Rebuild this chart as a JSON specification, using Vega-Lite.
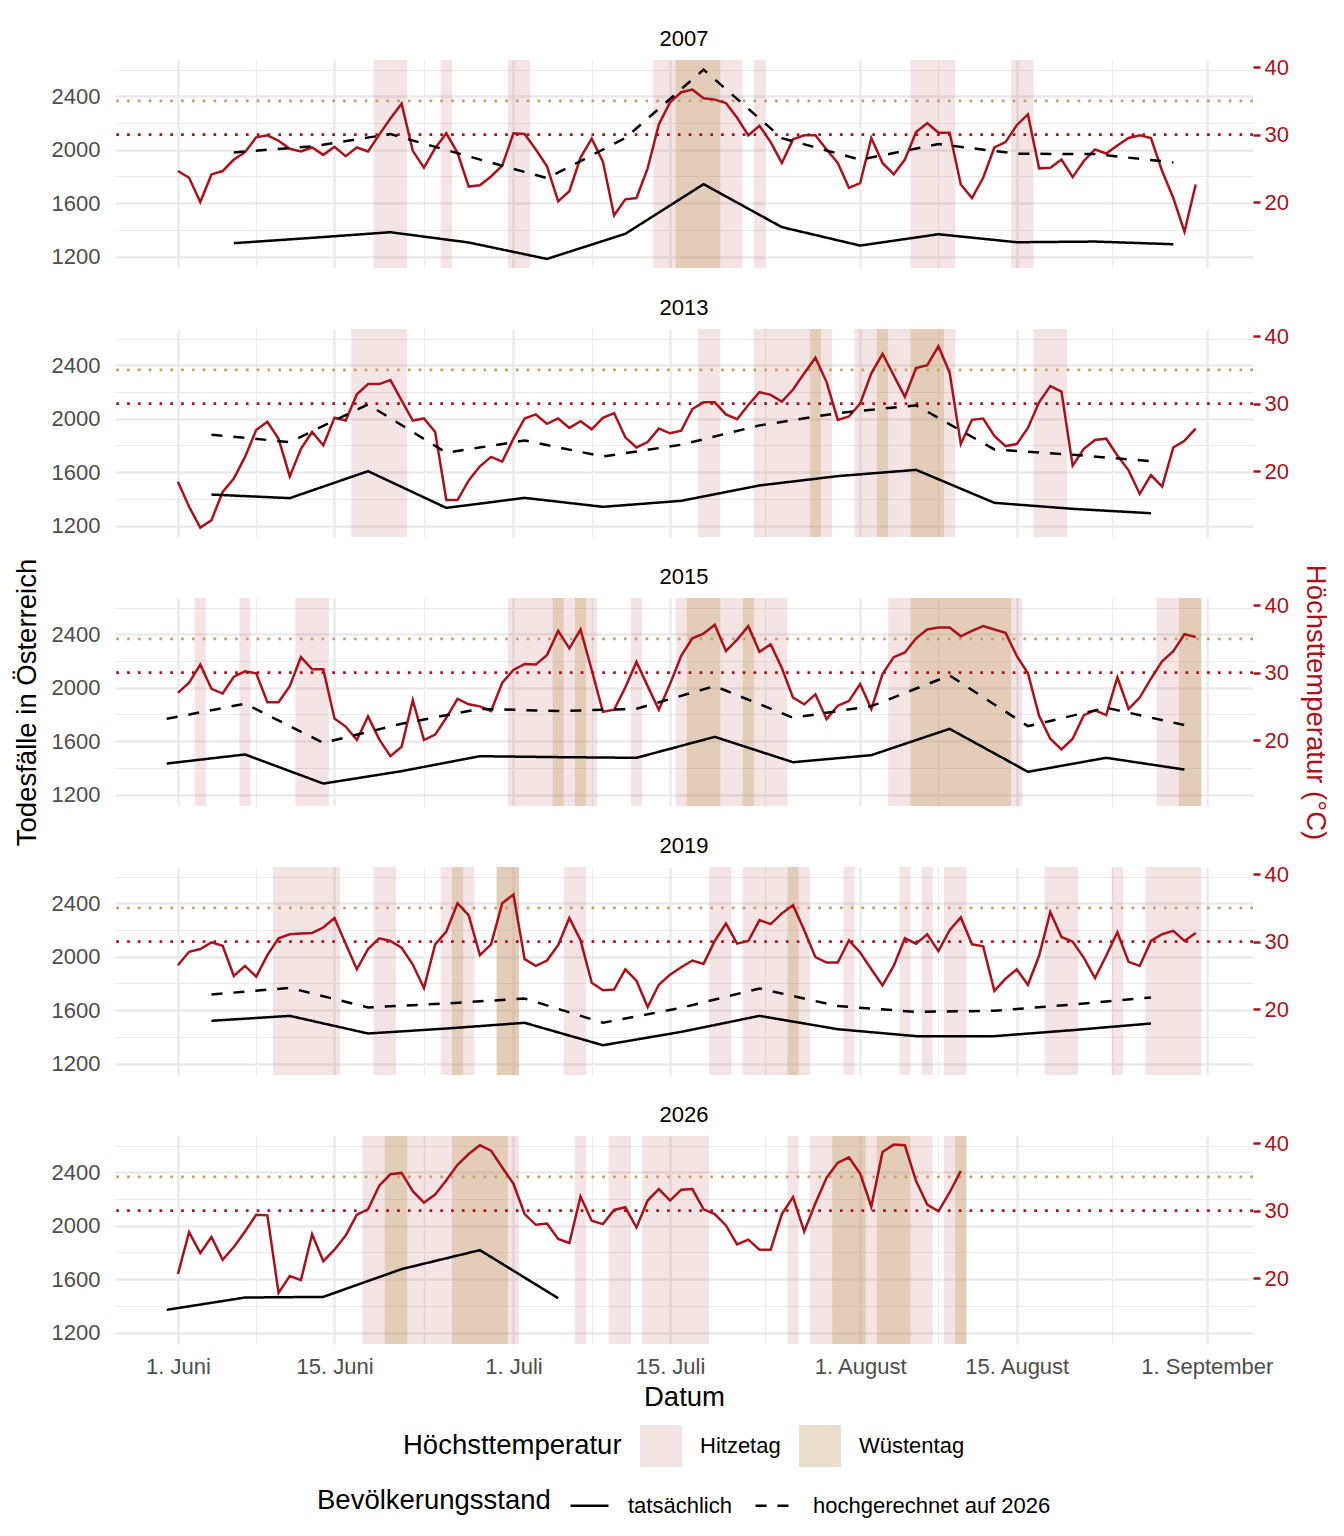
{
  "$schema": "https://vega.github.io/schema/vega-lite/v6.json",
  "padding": {"left": 13, "top": 28, "right": 10, "bottom": 10},
  "spacing": 61,
  "bounds": "flush",
  "datasets": {
    "temp": [
      {"Jahr":2007,"Tag":0,"Grad":24.6},{"Jahr":2007,"Tag":1,"Grad":23.6},{"Jahr":2007,"Tag":2,"Grad":20.0},{"Jahr":2007,"Tag":3,"Grad":24.1},{"Jahr":2007,"Tag":4,"Grad":24.6},{"Jahr":2007,"Tag":5,"Grad":26.3},{"Jahr":2007,"Tag":6,"Grad":27.4},{"Jahr":2007,"Tag":7,"Grad":29.6},{"Jahr":2007,"Tag":8,"Grad":29.9},{"Jahr":2007,"Tag":9,"Grad":29.1},
      {"Jahr":2007,"Tag":10,"Grad":27.9},{"Jahr":2007,"Tag":11,"Grad":27.5},{"Jahr":2007,"Tag":12,"Grad":28.1},{"Jahr":2007,"Tag":13,"Grad":27.0},{"Jahr":2007,"Tag":14,"Grad":28.2},{"Jahr":2007,"Tag":15,"Grad":26.8},{"Jahr":2007,"Tag":16,"Grad":28.1},{"Jahr":2007,"Tag":17,"Grad":27.5},{"Jahr":2007,"Tag":18,"Grad":30.0},{"Jahr":2007,"Tag":19,"Grad":32.4},
      {"Jahr":2007,"Tag":20,"Grad":34.6},{"Jahr":2007,"Tag":21,"Grad":27.6},{"Jahr":2007,"Tag":22,"Grad":25.1},{"Jahr":2007,"Tag":23,"Grad":28.0},{"Jahr":2007,"Tag":24,"Grad":30.2},{"Jahr":2007,"Tag":25,"Grad":27.3},{"Jahr":2007,"Tag":26,"Grad":22.3},{"Jahr":2007,"Tag":27,"Grad":22.5},{"Jahr":2007,"Tag":28,"Grad":23.8},{"Jahr":2007,"Tag":29,"Grad":25.4},
      {"Jahr":2007,"Tag":30,"Grad":30.2},{"Jahr":2007,"Tag":31,"Grad":30.1},{"Jahr":2007,"Tag":32,"Grad":27.8},{"Jahr":2007,"Tag":33,"Grad":25.3},{"Jahr":2007,"Tag":34,"Grad":20.1},{"Jahr":2007,"Tag":35,"Grad":21.6},{"Jahr":2007,"Tag":36,"Grad":26.6},{"Jahr":2007,"Tag":37,"Grad":29.4},{"Jahr":2007,"Tag":38,"Grad":26.0},{"Jahr":2007,"Tag":39,"Grad":18.0},
      {"Jahr":2007,"Tag":40,"Grad":20.4},{"Jahr":2007,"Tag":41,"Grad":20.6},{"Jahr":2007,"Tag":42,"Grad":25.0},{"Jahr":2007,"Tag":43,"Grad":31.5},{"Jahr":2007,"Tag":44,"Grad":34.8},{"Jahr":2007,"Tag":45,"Grad":36.3},{"Jahr":2007,"Tag":46,"Grad":36.7},{"Jahr":2007,"Tag":47,"Grad":35.4},{"Jahr":2007,"Tag":48,"Grad":35.2},{"Jahr":2007,"Tag":49,"Grad":34.7},
      {"Jahr":2007,"Tag":50,"Grad":32.5},{"Jahr":2007,"Tag":51,"Grad":29.9},{"Jahr":2007,"Tag":52,"Grad":31.3},{"Jahr":2007,"Tag":53,"Grad":28.9},{"Jahr":2007,"Tag":54,"Grad":25.8},{"Jahr":2007,"Tag":55,"Grad":29.3},{"Jahr":2007,"Tag":56,"Grad":29.9},{"Jahr":2007,"Tag":57,"Grad":29.9},{"Jahr":2007,"Tag":58,"Grad":27.8},{"Jahr":2007,"Tag":59,"Grad":25.8},
      {"Jahr":2007,"Tag":60,"Grad":22.1},{"Jahr":2007,"Tag":61,"Grad":22.8},{"Jahr":2007,"Tag":62,"Grad":29.5},{"Jahr":2007,"Tag":63,"Grad":25.8},{"Jahr":2007,"Tag":64,"Grad":24.1},{"Jahr":2007,"Tag":65,"Grad":26.3},{"Jahr":2007,"Tag":66,"Grad":30.4},{"Jahr":2007,"Tag":67,"Grad":31.7},{"Jahr":2007,"Tag":68,"Grad":30.3},{"Jahr":2007,"Tag":69,"Grad":30.3},
      {"Jahr":2007,"Tag":70,"Grad":22.6},{"Jahr":2007,"Tag":71,"Grad":20.6},{"Jahr":2007,"Tag":72,"Grad":23.6},{"Jahr":2007,"Tag":73,"Grad":28.1},{"Jahr":2007,"Tag":74,"Grad":28.9},{"Jahr":2007,"Tag":75,"Grad":31.4},{"Jahr":2007,"Tag":76,"Grad":33.0},{"Jahr":2007,"Tag":77,"Grad":25.0},{"Jahr":2007,"Tag":78,"Grad":25.1},{"Jahr":2007,"Tag":79,"Grad":26.3},
      {"Jahr":2007,"Tag":80,"Grad":23.7},{"Jahr":2007,"Tag":81,"Grad":26.1},{"Jahr":2007,"Tag":82,"Grad":27.8},{"Jahr":2007,"Tag":83,"Grad":27.2},{"Jahr":2007,"Tag":84,"Grad":28.4},{"Jahr":2007,"Tag":85,"Grad":29.5},{"Jahr":2007,"Tag":86,"Grad":29.9},{"Jahr":2007,"Tag":87,"Grad":29.5},{"Jahr":2007,"Tag":88,"Grad":24.6},{"Jahr":2007,"Tag":89,"Grad":20.6},
      {"Jahr":2007,"Tag":90,"Grad":15.6},{"Jahr":2007,"Tag":91,"Grad":22.6},

      {"Jahr":2013,"Tag":0,"Grad":18.4},{"Jahr":2013,"Tag":1,"Grad":14.7},{"Jahr":2013,"Tag":2,"Grad":11.6},{"Jahr":2013,"Tag":3,"Grad":12.7},{"Jahr":2013,"Tag":4,"Grad":16.9},{"Jahr":2013,"Tag":5,"Grad":18.9},{"Jahr":2013,"Tag":6,"Grad":22.1},{"Jahr":2013,"Tag":7,"Grad":26.1},{"Jahr":2013,"Tag":8,"Grad":27.3},{"Jahr":2013,"Tag":9,"Grad":24.8},
      {"Jahr":2013,"Tag":10,"Grad":19.2},{"Jahr":2013,"Tag":11,"Grad":23.3},{"Jahr":2013,"Tag":12,"Grad":25.8},{"Jahr":2013,"Tag":13,"Grad":23.8},{"Jahr":2013,"Tag":14,"Grad":27.9},{"Jahr":2013,"Tag":15,"Grad":27.5},{"Jahr":2013,"Tag":16,"Grad":31.4},{"Jahr":2013,"Tag":17,"Grad":32.9},{"Jahr":2013,"Tag":18,"Grad":32.9},{"Jahr":2013,"Tag":19,"Grad":33.5},
      {"Jahr":2013,"Tag":20,"Grad":30.5},{"Jahr":2013,"Tag":21,"Grad":27.5},{"Jahr":2013,"Tag":22,"Grad":27.8},{"Jahr":2013,"Tag":23,"Grad":25.8},{"Jahr":2013,"Tag":24,"Grad":15.7},{"Jahr":2013,"Tag":25,"Grad":15.7},{"Jahr":2013,"Tag":26,"Grad":18.6},{"Jahr":2013,"Tag":27,"Grad":20.7},{"Jahr":2013,"Tag":28,"Grad":22.1},{"Jahr":2013,"Tag":29,"Grad":21.4},
      {"Jahr":2013,"Tag":30,"Grad":24.8},{"Jahr":2013,"Tag":31,"Grad":27.8},{"Jahr":2013,"Tag":32,"Grad":28.4},{"Jahr":2013,"Tag":33,"Grad":27.0},{"Jahr":2013,"Tag":34,"Grad":27.8},{"Jahr":2013,"Tag":35,"Grad":26.4},{"Jahr":2013,"Tag":36,"Grad":27.4},{"Jahr":2013,"Tag":37,"Grad":26.2},{"Jahr":2013,"Tag":38,"Grad":27.9},{"Jahr":2013,"Tag":39,"Grad":28.6},
      {"Jahr":2013,"Tag":40,"Grad":25.0},{"Jahr":2013,"Tag":41,"Grad":23.5},{"Jahr":2013,"Tag":42,"Grad":24.3},{"Jahr":2013,"Tag":43,"Grad":26.3},{"Jahr":2013,"Tag":44,"Grad":25.6},{"Jahr":2013,"Tag":45,"Grad":26.0},{"Jahr":2013,"Tag":46,"Grad":29.2},{"Jahr":2013,"Tag":47,"Grad":30.2},{"Jahr":2013,"Tag":48,"Grad":30.2},{"Jahr":2013,"Tag":49,"Grad":28.4},
      {"Jahr":2013,"Tag":50,"Grad":27.7},{"Jahr":2013,"Tag":51,"Grad":29.8},{"Jahr":2013,"Tag":52,"Grad":31.7},{"Jahr":2013,"Tag":53,"Grad":31.3},{"Jahr":2013,"Tag":54,"Grad":30.3},{"Jahr":2013,"Tag":55,"Grad":32.1},{"Jahr":2013,"Tag":56,"Grad":34.5},{"Jahr":2013,"Tag":57,"Grad":36.8},{"Jahr":2013,"Tag":58,"Grad":33.2},{"Jahr":2013,"Tag":59,"Grad":27.6},
      {"Jahr":2013,"Tag":60,"Grad":28.1},{"Jahr":2013,"Tag":61,"Grad":30.0},{"Jahr":2013,"Tag":62,"Grad":34.5},{"Jahr":2013,"Tag":63,"Grad":37.4},{"Jahr":2013,"Tag":64,"Grad":34.2},{"Jahr":2013,"Tag":65,"Grad":31.0},{"Jahr":2013,"Tag":66,"Grad":35.3},{"Jahr":2013,"Tag":67,"Grad":35.7},{"Jahr":2013,"Tag":68,"Grad":38.5},{"Jahr":2013,"Tag":69,"Grad":34.6},
      {"Jahr":2013,"Tag":70,"Grad":24.0},{"Jahr":2013,"Tag":71,"Grad":27.6},{"Jahr":2013,"Tag":72,"Grad":27.8},{"Jahr":2013,"Tag":73,"Grad":25.2},{"Jahr":2013,"Tag":74,"Grad":23.7},{"Jahr":2013,"Tag":75,"Grad":24.0},{"Jahr":2013,"Tag":76,"Grad":26.4},{"Jahr":2013,"Tag":77,"Grad":30.2},{"Jahr":2013,"Tag":78,"Grad":32.6},{"Jahr":2013,"Tag":79,"Grad":31.8},
      {"Jahr":2013,"Tag":80,"Grad":20.8},{"Jahr":2013,"Tag":81,"Grad":23.3},{"Jahr":2013,"Tag":82,"Grad":24.6},{"Jahr":2013,"Tag":83,"Grad":24.8},{"Jahr":2013,"Tag":84,"Grad":22.3},{"Jahr":2013,"Tag":85,"Grad":20.1},{"Jahr":2013,"Tag":86,"Grad":16.6},{"Jahr":2013,"Tag":87,"Grad":19.4},{"Jahr":2013,"Tag":88,"Grad":17.7},{"Jahr":2013,"Tag":89,"Grad":23.5},
      {"Jahr":2013,"Tag":90,"Grad":24.5},{"Jahr":2013,"Tag":91,"Grad":26.3},

      {"Jahr":2015,"Tag":0,"Grad":27.0},{"Jahr":2015,"Tag":1,"Grad":28.5},{"Jahr":2015,"Tag":2,"Grad":31.2},{"Jahr":2015,"Tag":3,"Grad":27.6},{"Jahr":2015,"Tag":4,"Grad":26.9},{"Jahr":2015,"Tag":5,"Grad":29.4},{"Jahr":2015,"Tag":6,"Grad":30.2},{"Jahr":2015,"Tag":7,"Grad":29.9},{"Jahr":2015,"Tag":8,"Grad":25.6},{"Jahr":2015,"Tag":9,"Grad":25.6},
      {"Jahr":2015,"Tag":10,"Grad":28.0},{"Jahr":2015,"Tag":11,"Grad":32.3},{"Jahr":2015,"Tag":12,"Grad":30.5},{"Jahr":2015,"Tag":13,"Grad":30.5},{"Jahr":2015,"Tag":14,"Grad":23.2},{"Jahr":2015,"Tag":15,"Grad":22.0},{"Jahr":2015,"Tag":16,"Grad":20.0},{"Jahr":2015,"Tag":17,"Grad":23.5},{"Jahr":2015,"Tag":18,"Grad":20.1},{"Jahr":2015,"Tag":19,"Grad":17.6},
      {"Jahr":2015,"Tag":20,"Grad":19.0},{"Jahr":2015,"Tag":21,"Grad":25.9},{"Jahr":2015,"Tag":22,"Grad":20.0},{"Jahr":2015,"Tag":23,"Grad":20.8},{"Jahr":2015,"Tag":24,"Grad":23.3},{"Jahr":2015,"Tag":25,"Grad":26.1},{"Jahr":2015,"Tag":26,"Grad":25.3},{"Jahr":2015,"Tag":27,"Grad":25.0},{"Jahr":2015,"Tag":28,"Grad":24.3},{"Jahr":2015,"Tag":29,"Grad":28.5},
      {"Jahr":2015,"Tag":30,"Grad":30.4},{"Jahr":2015,"Tag":31,"Grad":31.3},{"Jahr":2015,"Tag":32,"Grad":31.2},{"Jahr":2015,"Tag":33,"Grad":32.6},{"Jahr":2015,"Tag":34,"Grad":36.2},{"Jahr":2015,"Tag":35,"Grad":33.6},{"Jahr":2015,"Tag":36,"Grad":36.4},{"Jahr":2015,"Tag":37,"Grad":30.4},{"Jahr":2015,"Tag":38,"Grad":24.2},{"Jahr":2015,"Tag":39,"Grad":24.5},
      {"Jahr":2015,"Tag":40,"Grad":27.8},{"Jahr":2015,"Tag":41,"Grad":31.6},{"Jahr":2015,"Tag":42,"Grad":28.0},{"Jahr":2015,"Tag":43,"Grad":24.5},{"Jahr":2015,"Tag":44,"Grad":28.3},{"Jahr":2015,"Tag":45,"Grad":32.5},{"Jahr":2015,"Tag":46,"Grad":35.1},{"Jahr":2015,"Tag":47,"Grad":35.8},{"Jahr":2015,"Tag":48,"Grad":37.1},{"Jahr":2015,"Tag":49,"Grad":33.2},
      {"Jahr":2015,"Tag":50,"Grad":34.9},{"Jahr":2015,"Tag":51,"Grad":36.9},{"Jahr":2015,"Tag":52,"Grad":33.1},{"Jahr":2015,"Tag":53,"Grad":34.2},{"Jahr":2015,"Tag":54,"Grad":30.7},{"Jahr":2015,"Tag":55,"Grad":26.3},{"Jahr":2015,"Tag":56,"Grad":25.3},{"Jahr":2015,"Tag":57,"Grad":26.8},{"Jahr":2015,"Tag":58,"Grad":23.1},{"Jahr":2015,"Tag":59,"Grad":25.1},
      {"Jahr":2015,"Tag":60,"Grad":25.8},{"Jahr":2015,"Tag":61,"Grad":28.3},{"Jahr":2015,"Tag":62,"Grad":24.6},{"Jahr":2015,"Tag":63,"Grad":29.8},{"Jahr":2015,"Tag":64,"Grad":32.3},{"Jahr":2015,"Tag":65,"Grad":33.0},{"Jahr":2015,"Tag":66,"Grad":35.1},{"Jahr":2015,"Tag":67,"Grad":36.4},{"Jahr":2015,"Tag":68,"Grad":36.7},{"Jahr":2015,"Tag":69,"Grad":36.7},
      {"Jahr":2015,"Tag":70,"Grad":35.4},{"Jahr":2015,"Tag":71,"Grad":36.2},{"Jahr":2015,"Tag":72,"Grad":36.9},{"Jahr":2015,"Tag":73,"Grad":36.4},{"Jahr":2015,"Tag":74,"Grad":35.9},{"Jahr":2015,"Tag":75,"Grad":32.5},{"Jahr":2015,"Tag":76,"Grad":29.9},{"Jahr":2015,"Tag":77,"Grad":23.6},{"Jahr":2015,"Tag":78,"Grad":20.2},{"Jahr":2015,"Tag":79,"Grad":18.6},
      {"Jahr":2015,"Tag":80,"Grad":20.2},{"Jahr":2015,"Tag":81,"Grad":23.7},{"Jahr":2015,"Tag":82,"Grad":24.4},{"Jahr":2015,"Tag":83,"Grad":23.7},{"Jahr":2015,"Tag":84,"Grad":29.3},{"Jahr":2015,"Tag":85,"Grad":24.6},{"Jahr":2015,"Tag":86,"Grad":26.3},{"Jahr":2015,"Tag":87,"Grad":29.1},{"Jahr":2015,"Tag":88,"Grad":31.7},{"Jahr":2015,"Tag":89,"Grad":33.2},
      {"Jahr":2015,"Tag":90,"Grad":35.7},{"Jahr":2015,"Tag":91,"Grad":35.3},

      {"Jahr":2019,"Tag":0,"Grad":26.5},{"Jahr":2019,"Tag":1,"Grad":28.5},{"Jahr":2019,"Tag":2,"Grad":28.9},{"Jahr":2019,"Tag":3,"Grad":29.9},{"Jahr":2019,"Tag":4,"Grad":29.4},{"Jahr":2019,"Tag":5,"Grad":24.9},{"Jahr":2019,"Tag":6,"Grad":26.4},{"Jahr":2019,"Tag":7,"Grad":24.8},{"Jahr":2019,"Tag":8,"Grad":28.0},{"Jahr":2019,"Tag":9,"Grad":30.5},
      {"Jahr":2019,"Tag":10,"Grad":31.1},{"Jahr":2019,"Tag":11,"Grad":31.2},{"Jahr":2019,"Tag":12,"Grad":31.3},{"Jahr":2019,"Tag":13,"Grad":32.1},{"Jahr":2019,"Tag":14,"Grad":33.5},{"Jahr":2019,"Tag":15,"Grad":29.7},{"Jahr":2019,"Tag":16,"Grad":25.9},{"Jahr":2019,"Tag":17,"Grad":28.9},{"Jahr":2019,"Tag":18,"Grad":30.5},{"Jahr":2019,"Tag":19,"Grad":30.1},
      {"Jahr":2019,"Tag":20,"Grad":29.1},{"Jahr":2019,"Tag":21,"Grad":26.6},{"Jahr":2019,"Tag":22,"Grad":23.1},{"Jahr":2019,"Tag":23,"Grad":29.6},{"Jahr":2019,"Tag":24,"Grad":31.5},{"Jahr":2019,"Tag":25,"Grad":35.7},{"Jahr":2019,"Tag":26,"Grad":33.9},{"Jahr":2019,"Tag":27,"Grad":28.0},{"Jahr":2019,"Tag":28,"Grad":29.6},{"Jahr":2019,"Tag":29,"Grad":35.7},
      {"Jahr":2019,"Tag":30,"Grad":37.0},{"Jahr":2019,"Tag":31,"Grad":27.4},{"Jahr":2019,"Tag":32,"Grad":26.4},{"Jahr":2019,"Tag":33,"Grad":27.2},{"Jahr":2019,"Tag":34,"Grad":29.5},{"Jahr":2019,"Tag":35,"Grad":33.5},{"Jahr":2019,"Tag":36,"Grad":30.2},{"Jahr":2019,"Tag":37,"Grad":23.9},{"Jahr":2019,"Tag":38,"Grad":22.8},{"Jahr":2019,"Tag":39,"Grad":22.9},
      {"Jahr":2019,"Tag":40,"Grad":25.9},{"Jahr":2019,"Tag":41,"Grad":24.2},{"Jahr":2019,"Tag":42,"Grad":20.3},{"Jahr":2019,"Tag":43,"Grad":23.6},{"Jahr":2019,"Tag":44,"Grad":25.1},{"Jahr":2019,"Tag":45,"Grad":26.2},{"Jahr":2019,"Tag":46,"Grad":27.2},{"Jahr":2019,"Tag":47,"Grad":26.7},{"Jahr":2019,"Tag":48,"Grad":30.1},{"Jahr":2019,"Tag":49,"Grad":32.7},
      {"Jahr":2019,"Tag":50,"Grad":29.7},{"Jahr":2019,"Tag":51,"Grad":30.1},{"Jahr":2019,"Tag":52,"Grad":33.2},{"Jahr":2019,"Tag":53,"Grad":32.6},{"Jahr":2019,"Tag":54,"Grad":34.2},{"Jahr":2019,"Tag":55,"Grad":35.4},{"Jahr":2019,"Tag":56,"Grad":31.7},{"Jahr":2019,"Tag":57,"Grad":27.7},{"Jahr":2019,"Tag":58,"Grad":26.9},{"Jahr":2019,"Tag":59,"Grad":26.9},
      {"Jahr":2019,"Tag":60,"Grad":30.2},{"Jahr":2019,"Tag":61,"Grad":28.4},{"Jahr":2019,"Tag":62,"Grad":25.9},{"Jahr":2019,"Tag":63,"Grad":23.5},{"Jahr":2019,"Tag":64,"Grad":26.4},{"Jahr":2019,"Tag":65,"Grad":30.5},{"Jahr":2019,"Tag":66,"Grad":29.7},{"Jahr":2019,"Tag":67,"Grad":31.1},{"Jahr":2019,"Tag":68,"Grad":28.6},{"Jahr":2019,"Tag":69,"Grad":31.7},
      {"Jahr":2019,"Tag":70,"Grad":33.6},{"Jahr":2019,"Tag":71,"Grad":29.6},{"Jahr":2019,"Tag":72,"Grad":29.3},{"Jahr":2019,"Tag":73,"Grad":22.7},{"Jahr":2019,"Tag":74,"Grad":24.5},{"Jahr":2019,"Tag":75,"Grad":25.9},{"Jahr":2019,"Tag":76,"Grad":23.6},{"Jahr":2019,"Tag":77,"Grad":27.9},{"Jahr":2019,"Tag":78,"Grad":34.4},{"Jahr":2019,"Tag":79,"Grad":30.7},
      {"Jahr":2019,"Tag":80,"Grad":30.0},{"Jahr":2019,"Tag":81,"Grad":27.6},{"Jahr":2019,"Tag":82,"Grad":24.6},{"Jahr":2019,"Tag":83,"Grad":27.9},{"Jahr":2019,"Tag":84,"Grad":31.4},{"Jahr":2019,"Tag":85,"Grad":27.0},{"Jahr":2019,"Tag":86,"Grad":26.4},{"Jahr":2019,"Tag":87,"Grad":30.1},{"Jahr":2019,"Tag":88,"Grad":31.1},{"Jahr":2019,"Tag":89,"Grad":31.6},
      {"Jahr":2019,"Tag":90,"Grad":30.1},{"Jahr":2019,"Tag":91,"Grad":31.3},

      {"Jahr":2026,"Tag":0,"Grad":20.6},{"Jahr":2026,"Tag":1,"Grad":26.8},{"Jahr":2026,"Tag":2,"Grad":23.7},{"Jahr":2026,"Tag":3,"Grad":26.1},{"Jahr":2026,"Tag":4,"Grad":22.7},{"Jahr":2026,"Tag":5,"Grad":24.6},{"Jahr":2026,"Tag":6,"Grad":26.9},{"Jahr":2026,"Tag":7,"Grad":29.4},{"Jahr":2026,"Tag":8,"Grad":29.3},{"Jahr":2026,"Tag":9,"Grad":17.8},
      {"Jahr":2026,"Tag":10,"Grad":20.3},{"Jahr":2026,"Tag":11,"Grad":19.7},{"Jahr":2026,"Tag":12,"Grad":26.5},{"Jahr":2026,"Tag":13,"Grad":22.5},{"Jahr":2026,"Tag":14,"Grad":24.2},{"Jahr":2026,"Tag":15,"Grad":26.3},{"Jahr":2026,"Tag":16,"Grad":29.4},{"Jahr":2026,"Tag":17,"Grad":30.2},{"Jahr":2026,"Tag":18,"Grad":33.7},{"Jahr":2026,"Tag":19,"Grad":35.4},
      {"Jahr":2026,"Tag":20,"Grad":35.6},{"Jahr":2026,"Tag":21,"Grad":32.9},{"Jahr":2026,"Tag":22,"Grad":31.2},{"Jahr":2026,"Tag":23,"Grad":32.4},{"Jahr":2026,"Tag":24,"Grad":34.5},{"Jahr":2026,"Tag":25,"Grad":36.8},{"Jahr":2026,"Tag":26,"Grad":38.4},{"Jahr":2026,"Tag":27,"Grad":39.7},{"Jahr":2026,"Tag":28,"Grad":38.9},{"Jahr":2026,"Tag":29,"Grad":36.4},
      {"Jahr":2026,"Tag":30,"Grad":34.0},{"Jahr":2026,"Tag":31,"Grad":29.5},{"Jahr":2026,"Tag":32,"Grad":27.9},{"Jahr":2026,"Tag":33,"Grad":28.1},{"Jahr":2026,"Tag":34,"Grad":25.8},{"Jahr":2026,"Tag":35,"Grad":25.2},{"Jahr":2026,"Tag":36,"Grad":32.1},{"Jahr":2026,"Tag":37,"Grad":28.5},{"Jahr":2026,"Tag":38,"Grad":28.0},{"Jahr":2026,"Tag":39,"Grad":30.1},
      {"Jahr":2026,"Tag":40,"Grad":30.5},{"Jahr":2026,"Tag":41,"Grad":27.5},{"Jahr":2026,"Tag":42,"Grad":31.5},{"Jahr":2026,"Tag":43,"Grad":33.2},{"Jahr":2026,"Tag":44,"Grad":31.5},{"Jahr":2026,"Tag":45,"Grad":33.1},{"Jahr":2026,"Tag":46,"Grad":33.2},{"Jahr":2026,"Tag":47,"Grad":30.2},{"Jahr":2026,"Tag":48,"Grad":29.5},{"Jahr":2026,"Tag":49,"Grad":27.8},
      {"Jahr":2026,"Tag":50,"Grad":25.0},{"Jahr":2026,"Tag":51,"Grad":25.7},{"Jahr":2026,"Tag":52,"Grad":24.2},{"Jahr":2026,"Tag":53,"Grad":24.2},{"Jahr":2026,"Tag":54,"Grad":29.5},{"Jahr":2026,"Tag":55,"Grad":32.0},{"Jahr":2026,"Tag":56,"Grad":26.9},{"Jahr":2026,"Tag":57,"Grad":31.1},{"Jahr":2026,"Tag":58,"Grad":34.9},{"Jahr":2026,"Tag":59,"Grad":37.1},
      {"Jahr":2026,"Tag":60,"Grad":37.9},{"Jahr":2026,"Tag":61,"Grad":35.5},{"Jahr":2026,"Tag":62,"Grad":30.6},{"Jahr":2026,"Tag":63,"Grad":38.7},{"Jahr":2026,"Tag":64,"Grad":39.8},{"Jahr":2026,"Tag":65,"Grad":39.7},{"Jahr":2026,"Tag":66,"Grad":34.4},{"Jahr":2026,"Tag":67,"Grad":30.9},{"Jahr":2026,"Tag":68,"Grad":29.9},{"Jahr":2026,"Tag":69,"Grad":32.7},
      {"Jahr":2026,"Tag":70,"Grad":35.9}
    ],
    "tote": [
      {"Jahr":2007,"Tag":5,"Stand":"tatsächlich","Tote":1300},{"Jahr":2007,"Tag":12,"Stand":"tatsächlich","Tote":1340},{"Jahr":2007,"Tag":19,"Stand":"tatsächlich","Tote":1382},{"Jahr":2007,"Tag":26,"Stand":"tatsächlich","Tote":1305},{"Jahr":2007,"Tag":33,"Stand":"tatsächlich","Tote":1182},{"Jahr":2007,"Tag":40,"Stand":"tatsächlich","Tote":1370},{"Jahr":2007,"Tag":47,"Stand":"tatsächlich","Tote":1742},{"Jahr":2007,"Tag":54,"Stand":"tatsächlich","Tote":1420},{"Jahr":2007,"Tag":61,"Stand":"tatsächlich","Tote":1282},{"Jahr":2007,"Tag":68,"Stand":"tatsächlich","Tote":1367},{"Jahr":2007,"Tag":75,"Stand":"tatsächlich","Tote":1307},{"Jahr":2007,"Tag":82,"Stand":"tatsächlich","Tote":1312},{"Jahr":2007,"Tag":89,"Stand":"tatsächlich","Tote":1292},
      {"Jahr":2007,"Tag":5,"Stand":"hochgerechnet auf 2026","Tote":1980},{"Jahr":2007,"Tag":12,"Stand":"hochgerechnet auf 2026","Tote":2025},{"Jahr":2007,"Tag":19,"Stand":"hochgerechnet auf 2026","Tote":2117},{"Jahr":2007,"Tag":26,"Stand":"hochgerechnet auf 2026","Tote":1950},{"Jahr":2007,"Tag":33,"Stand":"hochgerechnet auf 2026","Tote":1787},{"Jahr":2007,"Tag":40,"Stand":"hochgerechnet auf 2026","Tote":2087},{"Jahr":2007,"Tag":47,"Stand":"hochgerechnet auf 2026","Tote":2600},{"Jahr":2007,"Tag":54,"Stand":"hochgerechnet auf 2026","Tote":2087},{"Jahr":2007,"Tag":61,"Stand":"hochgerechnet auf 2026","Tote":1925},{"Jahr":2007,"Tag":68,"Stand":"hochgerechnet auf 2026","Tote":2042},{"Jahr":2007,"Tag":75,"Stand":"hochgerechnet auf 2026","Tote":1970},{"Jahr":2007,"Tag":82,"Stand":"hochgerechnet auf 2026","Tote":1967},{"Jahr":2007,"Tag":89,"Stand":"hochgerechnet auf 2026","Tote":1905},

      {"Jahr":2013,"Tag":3,"Stand":"tatsächlich","Tote":1432},{"Jahr":2013,"Tag":10,"Stand":"tatsächlich","Tote":1405},{"Jahr":2013,"Tag":17,"Stand":"tatsächlich","Tote":1607},{"Jahr":2013,"Tag":24,"Stand":"tatsächlich","Tote":1332},{"Jahr":2013,"Tag":31,"Stand":"tatsächlich","Tote":1407},{"Jahr":2013,"Tag":38,"Stand":"tatsächlich","Tote":1340},{"Jahr":2013,"Tag":45,"Stand":"tatsächlich","Tote":1385},{"Jahr":2013,"Tag":52,"Stand":"tatsächlich","Tote":1500},{"Jahr":2013,"Tag":59,"Stand":"tatsächlich","Tote":1570},{"Jahr":2013,"Tag":66,"Stand":"tatsächlich","Tote":1617},{"Jahr":2013,"Tag":73,"Stand":"tatsächlich","Tote":1370},{"Jahr":2013,"Tag":80,"Stand":"tatsächlich","Tote":1325},{"Jahr":2013,"Tag":87,"Stand":"tatsächlich","Tote":1292},
      {"Jahr":2013,"Tag":3,"Stand":"hochgerechnet auf 2026","Tote":1880},{"Jahr":2013,"Tag":10,"Stand":"hochgerechnet auf 2026","Tote":1825},{"Jahr":2013,"Tag":17,"Stand":"hochgerechnet auf 2026","Tote":2107},{"Jahr":2013,"Tag":24,"Stand":"hochgerechnet auf 2026","Tote":1745},{"Jahr":2013,"Tag":31,"Stand":"hochgerechnet auf 2026","Tote":1837},{"Jahr":2013,"Tag":38,"Stand":"hochgerechnet auf 2026","Tote":1717},{"Jahr":2013,"Tag":45,"Stand":"hochgerechnet auf 2026","Tote":1805},{"Jahr":2013,"Tag":52,"Stand":"hochgerechnet auf 2026","Tote":1950},{"Jahr":2013,"Tag":59,"Stand":"hochgerechnet auf 2026","Tote":2042},{"Jahr":2013,"Tag":66,"Stand":"hochgerechnet auf 2026","Tote":2100},{"Jahr":2013,"Tag":73,"Stand":"hochgerechnet auf 2026","Tote":1770},{"Jahr":2013,"Tag":80,"Stand":"hochgerechnet auf 2026","Tote":1730},{"Jahr":2013,"Tag":87,"Stand":"hochgerechnet auf 2026","Tote":1682},

      {"Jahr":2015,"Tag":-1,"Stand":"tatsächlich","Tote":1432},{"Jahr":2015,"Tag":6,"Stand":"tatsächlich","Tote":1500},{"Jahr":2015,"Tag":13,"Stand":"tatsächlich","Tote":1282},{"Jahr":2015,"Tag":20,"Stand":"tatsächlich","Tote":1375},{"Jahr":2015,"Tag":27,"Stand":"tatsächlich","Tote":1487},{"Jahr":2015,"Tag":34,"Stand":"tatsächlich","Tote":1480},{"Jahr":2015,"Tag":41,"Stand":"tatsächlich","Tote":1475},{"Jahr":2015,"Tag":48,"Stand":"tatsächlich","Tote":1632},{"Jahr":2015,"Tag":55,"Stand":"tatsächlich","Tote":1442},{"Jahr":2015,"Tag":62,"Stand":"tatsächlich","Tote":1495},{"Jahr":2015,"Tag":69,"Stand":"tatsächlich","Tote":1692},{"Jahr":2015,"Tag":76,"Stand":"tatsächlich","Tote":1370},{"Jahr":2015,"Tag":83,"Stand":"tatsächlich","Tote":1475},{"Jahr":2015,"Tag":90,"Stand":"tatsächlich","Tote":1387},
      {"Jahr":2015,"Tag":-1,"Stand":"hochgerechnet auf 2026","Tote":1767},{"Jahr":2015,"Tag":6,"Stand":"hochgerechnet auf 2026","Tote":1880},{"Jahr":2015,"Tag":13,"Stand":"hochgerechnet auf 2026","Tote":1587},{"Jahr":2015,"Tag":20,"Stand":"hochgerechnet auf 2026","Tote":1730},{"Jahr":2015,"Tag":27,"Stand":"hochgerechnet auf 2026","Tote":1842},{"Jahr":2015,"Tag":34,"Stand":"hochgerechnet auf 2026","Tote":1825},{"Jahr":2015,"Tag":41,"Stand":"hochgerechnet auf 2026","Tote":1842},{"Jahr":2015,"Tag":48,"Stand":"hochgerechnet auf 2026","Tote":2012},{"Jahr":2015,"Tag":55,"Stand":"hochgerechnet auf 2026","Tote":1775},{"Jahr":2015,"Tag":62,"Stand":"hochgerechnet auf 2026","Tote":1862},{"Jahr":2015,"Tag":69,"Stand":"hochgerechnet auf 2026","Tote":2092},{"Jahr":2015,"Tag":76,"Stand":"hochgerechnet auf 2026","Tote":1712},{"Jahr":2015,"Tag":83,"Stand":"hochgerechnet auf 2026","Tote":1850},{"Jahr":2015,"Tag":90,"Stand":"hochgerechnet auf 2026","Tote":1720},

      {"Jahr":2019,"Tag":3,"Stand":"tatsächlich","Tote":1520},{"Jahr":2019,"Tag":10,"Stand":"tatsächlich","Tote":1557},{"Jahr":2019,"Tag":17,"Stand":"tatsächlich","Tote":1425},{"Jahr":2019,"Tag":24,"Stand":"tatsächlich","Tote":1462},{"Jahr":2019,"Tag":31,"Stand":"tatsächlich","Tote":1505},{"Jahr":2019,"Tag":38,"Stand":"tatsächlich","Tote":1337},{"Jahr":2019,"Tag":45,"Stand":"tatsächlich","Tote":1437},{"Jahr":2019,"Tag":52,"Stand":"tatsächlich","Tote":1557},{"Jahr":2019,"Tag":59,"Stand":"tatsächlich","Tote":1457},{"Jahr":2019,"Tag":66,"Stand":"tatsächlich","Tote":1405},{"Jahr":2019,"Tag":73,"Stand":"tatsächlich","Tote":1405},{"Jahr":2019,"Tag":80,"Stand":"tatsächlich","Tote":1450},{"Jahr":2019,"Tag":87,"Stand":"tatsächlich","Tote":1500},
      {"Jahr":2019,"Tag":3,"Stand":"hochgerechnet auf 2026","Tote":1717},{"Jahr":2019,"Tag":10,"Stand":"hochgerechnet auf 2026","Tote":1767},{"Jahr":2019,"Tag":17,"Stand":"hochgerechnet auf 2026","Tote":1620},{"Jahr":2019,"Tag":24,"Stand":"hochgerechnet auf 2026","Tote":1650},{"Jahr":2019,"Tag":31,"Stand":"hochgerechnet auf 2026","Tote":1687},{"Jahr":2019,"Tag":38,"Stand":"hochgerechnet auf 2026","Tote":1505},{"Jahr":2019,"Tag":45,"Stand":"hochgerechnet auf 2026","Tote":1617},{"Jahr":2019,"Tag":52,"Stand":"hochgerechnet auf 2026","Tote":1762},{"Jahr":2019,"Tag":59,"Stand":"hochgerechnet auf 2026","Tote":1630},{"Jahr":2019,"Tag":66,"Stand":"hochgerechnet auf 2026","Tote":1587},{"Jahr":2019,"Tag":73,"Stand":"hochgerechnet auf 2026","Tote":1595},{"Jahr":2019,"Tag":80,"Stand":"hochgerechnet auf 2026","Tote":1642},{"Jahr":2019,"Tag":87,"Stand":"hochgerechnet auf 2026","Tote":1695},

      {"Jahr":2026,"Tag":-1,"Stand":"tatsächlich","Tote":1370},{"Jahr":2026,"Tag":6,"Stand":"tatsächlich","Tote":1462},{"Jahr":2026,"Tag":13,"Stand":"tatsächlich","Tote":1467},{"Jahr":2026,"Tag":20,"Stand":"tatsächlich","Tote":1675},{"Jahr":2026,"Tag":27,"Stand":"tatsächlich","Tote":1817},{"Jahr":2026,"Tag":34,"Stand":"tatsächlich","Tote":1457}
    ],
    "tage": [
      {"Jahr":2007,"Art":"Hitzetag","von":17.5,"bis":20.5},{"Jahr":2007,"Art":"Hitzetag","von":23.5,"bis":24.5},{"Jahr":2007,"Art":"Hitzetag","von":29.5,"bis":31.5},{"Jahr":2007,"Art":"Hitzetag","von":42.5,"bis":50.5},{"Jahr":2007,"Art":"Hitzetag","von":51.5,"bis":52.5},{"Jahr":2007,"Art":"Hitzetag","von":65.5,"bis":69.5},{"Jahr":2007,"Art":"Hitzetag","von":74.5,"bis":76.5},
      {"Jahr":2013,"Art":"Hitzetag","von":15.5,"bis":20.5},{"Jahr":2013,"Art":"Hitzetag","von":46.5,"bis":48.5},{"Jahr":2013,"Art":"Hitzetag","von":51.5,"bis":58.5},{"Jahr":2013,"Art":"Hitzetag","von":60.5,"bis":69.5},{"Jahr":2013,"Art":"Hitzetag","von":76.5,"bis":79.5},
      {"Jahr":2015,"Art":"Hitzetag","von":1.5,"bis":2.5},{"Jahr":2015,"Art":"Hitzetag","von":5.5,"bis":6.5},{"Jahr":2015,"Art":"Hitzetag","von":10.5,"bis":13.5},{"Jahr":2015,"Art":"Hitzetag","von":29.5,"bis":37.5},{"Jahr":2015,"Art":"Hitzetag","von":40.5,"bis":41.5},{"Jahr":2015,"Art":"Hitzetag","von":44.5,"bis":54.5},{"Jahr":2015,"Art":"Hitzetag","von":63.5,"bis":75.5},{"Jahr":2015,"Art":"Hitzetag","von":87.5,"bis":91.5},
      {"Jahr":2019,"Art":"Hitzetag","von":8.5,"bis":14.5},{"Jahr":2019,"Art":"Hitzetag","von":17.5,"bis":19.5},{"Jahr":2019,"Art":"Hitzetag","von":23.5,"bis":26.5},{"Jahr":2019,"Art":"Hitzetag","von":28.5,"bis":30.5},{"Jahr":2019,"Art":"Hitzetag","von":34.5,"bis":36.5},{"Jahr":2019,"Art":"Hitzetag","von":47.5,"bis":49.5},{"Jahr":2019,"Art":"Hitzetag","von":50.5,"bis":56.5},{"Jahr":2019,"Art":"Hitzetag","von":59.5,"bis":60.5},{"Jahr":2019,"Art":"Hitzetag","von":64.5,"bis":65.5},{"Jahr":2019,"Art":"Hitzetag","von":66.5,"bis":67.5},{"Jahr":2019,"Art":"Hitzetag","von":68.5,"bis":70.5},{"Jahr":2019,"Art":"Hitzetag","von":77.5,"bis":80.5},{"Jahr":2019,"Art":"Hitzetag","von":83.5,"bis":84.5},{"Jahr":2019,"Art":"Hitzetag","von":86.5,"bis":91.5},
      {"Jahr":2026,"Art":"Hitzetag","von":16.5,"bis":30.5},{"Jahr":2026,"Art":"Hitzetag","von":35.5,"bis":36.5},{"Jahr":2026,"Art":"Hitzetag","von":38.5,"bis":40.5},{"Jahr":2026,"Art":"Hitzetag","von":41.5,"bis":47.5},{"Jahr":2026,"Art":"Hitzetag","von":54.5,"bis":55.5},{"Jahr":2026,"Art":"Hitzetag","von":56.5,"bis":67.5},{"Jahr":2026,"Art":"Hitzetag","von":68.5,"bis":70.5},
      {"Jahr":2007,"Art":"Wüstentag","von":44.5,"bis":48.5},
      {"Jahr":2013,"Art":"Wüstentag","von":56.5,"bis":57.5},{"Jahr":2013,"Art":"Wüstentag","von":62.5,"bis":63.5},{"Jahr":2013,"Art":"Wüstentag","von":65.5,"bis":68.5},
      {"Jahr":2015,"Art":"Wüstentag","von":33.5,"bis":34.5},{"Jahr":2015,"Art":"Wüstentag","von":35.5,"bis":36.5},{"Jahr":2015,"Art":"Wüstentag","von":45.5,"bis":48.5},{"Jahr":2015,"Art":"Wüstentag","von":50.5,"bis":51.5},{"Jahr":2015,"Art":"Wüstentag","von":65.5,"bis":74.5},{"Jahr":2015,"Art":"Wüstentag","von":89.5,"bis":91.5},
      {"Jahr":2019,"Art":"Wüstentag","von":24.5,"bis":25.5},{"Jahr":2019,"Art":"Wüstentag","von":28.5,"bis":30.5},{"Jahr":2019,"Art":"Wüstentag","von":54.5,"bis":55.5},
      {"Jahr":2026,"Art":"Wüstentag","von":18.5,"bis":20.5},{"Jahr":2026,"Art":"Wüstentag","von":24.5,"bis":29.5},{"Jahr":2026,"Art":"Wüstentag","von":58.5,"bis":61.5},{"Jahr":2026,"Art":"Wüstentag","von":62.5,"bis":65.5},{"Jahr":2026,"Art":"Wüstentag","von":69.5,"bis":70.5}
    ]
  },
  "vconcat": [
    {
      "title": "2007",
      "width": 1138,
      "height": 208,
      "layer": [
        {
          "data": {"name": "tage"},
          "transform": [{"filter": "datum.Jahr == 2007"}],
          "mark": {"type": "rect"},
          "encoding": {
            "x": {"field": "von", "type": "quantitative", "title": null, "scale": {"domain": [-5.625, 96.125], "nice": false, "zero": false}, "axis": {"values": [0, 7, 14, 22, 30, 37, 44, 52.5, 61, 68, 75, 83.5, 92], "labels": false, "grid": true, "gridWidth": {"condition": {"test": "datum.value == 0 || datum.value == 14 || datum.value == 30 || datum.value == 44 || datum.value == 61 || datum.value == 75 || datum.value == 92", "value": 2.5}, "value": 1.2}}},
            "x2": {"field": "bis"},
            "fill": {"field": "Art", "type": "nominal", "scale": {"domain": ["Hitzetag", "Wüstentag"], "range": ["rgba(165,15,21,0.115)", "rgba(189,155,93,0.32)"]}, "legend": {"title": "Höchsttemperatur", "symbolType": "square", "symbolSize": 1764, "symbolStrokeWidth": 0, "symbolOpacity": 1}}
          }
        },
        {
          "layer": [
            {
              "data": {"values": [{}]},
              "mark": {"type": "rule", "color": "#a8121c", "strokeWidth": 2.7, "strokeDash": [2.7, 8.1]},
              "encoding": {"y": {"datum": 30, "type": "quantitative", "scale": {"domain": [10.21, 41.08], "nice": false, "zero": false}, "axis": {"orient": "right", "values": [20, 30, 40], "grid": false, "title": null}}}
            },
            {
              "data": {"values": [{}]},
              "mark": {"type": "rule", "color": "#c8a064", "strokeWidth": 2.7, "strokeDash": [2.7, 8.1]},
              "encoding": {"y": {"datum": 35, "type": "quantitative", "scale": {"domain": [10.21, 41.08], "nice": false, "zero": false}, "axis": {"orient": "right", "values": [20, 30, 40], "grid": false, "title": null}}}
            },
            {
              "data": {"name": "temp"},
              "transform": [{"filter": "datum.Jahr == 2007"}],
              "mark": {"type": "line", "color": "#a8121c", "strokeWidth": 2.5},
              "encoding": {
                "x": {"field": "Tag", "type": "quantitative", "title": null, "scale": {"domain": [-5.625, 96.125], "nice": false, "zero": false}},
                "y": {"field": "Grad", "type": "quantitative", "scale": {"domain": [10.21, 41.08], "nice": false, "zero": false}, "axis": {"orient": "right", "values": [20, 30, 40], "grid": false, "title": null}}
              }
            }
          ]
        },
        {
          "data": {"name": "tote"},
          "transform": [{"filter": "datum.Jahr == 2007"}],
          "mark": {"type": "line", "color": "#000000", "strokeWidth": 2.5},
          "encoding": {
            "x": {"field": "Tag", "type": "quantitative", "title": null, "scale": {"domain": [-5.625, 96.125], "nice": false, "zero": false}},
            "y": {"field": "Tote", "type": "quantitative", "scale": {"domain": [1114, 2672], "nice": false, "zero": false}, "axis": {"orient": "left", "title": null, "grid": true, "values": [1200, 1400, 1600, 1800, 2000, 2200, 2400, 2600], "labelExpr": "datum.value % 400 == 0 ? '' + datum.value : ''", "gridWidth": {"condition": {"test": "datum.value % 400 == 0", "value": 2.5}, "value": 1.2}}},
            "strokeDash": {"field": "Stand", "type": "nominal", "scale": {"domain": ["tatsächlich", "hochgerechnet auf 2026"], "range": [[1, 0], [11, 11]]}, "legend": {"title": "Bevölkerungsstand", "symbolType": "stroke", "symbolSize": 1444, "symbolStrokeWidth": 2.5, "symbolStrokeColor": "#000000"}}
          }
        }
      ],
      "resolve": {"scale": {"y": "independent"}}
    },
    {
      "title": "2013",
      "width": 1138,
      "height": 208,
      "layer": [
        {
          "data": {"name": "tage"},
          "transform": [{"filter": "datum.Jahr == 2013"}],
          "mark": {"type": "rect"},
          "encoding": {
            "x": {"field": "von", "type": "quantitative", "title": null, "scale": {"domain": [-5.625, 96.125], "nice": false, "zero": false}, "axis": {"values": [0, 7, 14, 22, 30, 37, 44, 52.5, 61, 68, 75, 83.5, 92], "labels": false, "grid": true, "gridWidth": {"condition": {"test": "datum.value == 0 || datum.value == 14 || datum.value == 30 || datum.value == 44 || datum.value == 61 || datum.value == 75 || datum.value == 92", "value": 2.5}, "value": 1.2}}},
            "x2": {"field": "bis"},
            "fill": {"field": "Art", "type": "nominal", "scale": {"domain": ["Hitzetag", "Wüstentag"], "range": ["rgba(165,15,21,0.115)", "rgba(189,155,93,0.32)"]}, "legend": {"title": "Höchsttemperatur", "symbolType": "square", "symbolSize": 1764, "symbolStrokeWidth": 0, "symbolOpacity": 1}}
          }
        },
        {
          "layer": [
            {
              "data": {"values": [{}]},
              "mark": {"type": "rule", "color": "#a8121c", "strokeWidth": 2.7, "strokeDash": [2.7, 8.1]},
              "encoding": {"y": {"datum": 30, "type": "quantitative", "scale": {"domain": [10.21, 41.08], "nice": false, "zero": false}, "axis": {"orient": "right", "values": [20, 30, 40], "grid": false, "title": null}}}
            },
            {
              "data": {"values": [{}]},
              "mark": {"type": "rule", "color": "#c8a064", "strokeWidth": 2.7, "strokeDash": [2.7, 8.1]},
              "encoding": {"y": {"datum": 35, "type": "quantitative", "scale": {"domain": [10.21, 41.08], "nice": false, "zero": false}, "axis": {"orient": "right", "values": [20, 30, 40], "grid": false, "title": null}}}
            },
            {
              "data": {"name": "temp"},
              "transform": [{"filter": "datum.Jahr == 2013"}],
              "mark": {"type": "line", "color": "#a8121c", "strokeWidth": 2.5},
              "encoding": {
                "x": {"field": "Tag", "type": "quantitative", "title": null, "scale": {"domain": [-5.625, 96.125], "nice": false, "zero": false}},
                "y": {"field": "Grad", "type": "quantitative", "scale": {"domain": [10.21, 41.08], "nice": false, "zero": false}, "axis": {"orient": "right", "values": [20, 30, 40], "grid": false, "title": null}}
              }
            }
          ]
        },
        {
          "data": {"name": "tote"},
          "transform": [{"filter": "datum.Jahr == 2013"}],
          "mark": {"type": "line", "color": "#000000", "strokeWidth": 2.5},
          "encoding": {
            "x": {"field": "Tag", "type": "quantitative", "title": null, "scale": {"domain": [-5.625, 96.125], "nice": false, "zero": false}},
            "y": {"field": "Tote", "type": "quantitative", "scale": {"domain": [1114, 2672], "nice": false, "zero": false}, "axis": {"orient": "left", "title": null, "grid": true, "values": [1200, 1400, 1600, 1800, 2000, 2200, 2400, 2600], "labelExpr": "datum.value % 400 == 0 ? '' + datum.value : ''", "gridWidth": {"condition": {"test": "datum.value % 400 == 0", "value": 2.5}, "value": 1.2}}},
            "strokeDash": {"field": "Stand", "type": "nominal", "scale": {"domain": ["tatsächlich", "hochgerechnet auf 2026"], "range": [[1, 0], [11, 11]]}, "legend": {"title": "Bevölkerungsstand", "symbolType": "stroke", "symbolSize": 1444, "symbolStrokeWidth": 2.5, "symbolStrokeColor": "#000000"}}
          }
        }
      ],
      "resolve": {"scale": {"y": "independent"}}
    },
    {
      "title": {"text": "2015", "offset": -31},
      "width": 1138,
      "height": 208,
      "layer": [
        {
          "data": {"name": "tage"},
          "transform": [{"filter": "datum.Jahr == 2015"}],
          "mark": {"type": "rect"},
          "encoding": {
            "x": {"field": "von", "type": "quantitative", "title": null, "scale": {"domain": [-5.625, 96.125], "nice": false, "zero": false}, "axis": {"values": [0, 7, 14, 22, 30, 37, 44, 52.5, 61, 68, 75, 83.5, 92], "labels": false, "grid": true, "gridWidth": {"condition": {"test": "datum.value == 0 || datum.value == 14 || datum.value == 30 || datum.value == 44 || datum.value == 61 || datum.value == 75 || datum.value == 92", "value": 2.5}, "value": 1.2}}},
            "x2": {"field": "bis"},
            "fill": {"field": "Art", "type": "nominal", "scale": {"domain": ["Hitzetag", "Wüstentag"], "range": ["rgba(165,15,21,0.115)", "rgba(189,155,93,0.32)"]}, "legend": {"title": "Höchsttemperatur", "symbolType": "square", "symbolSize": 1764, "symbolStrokeWidth": 0, "symbolOpacity": 1}}
          }
        },
        {
          "layer": [
            {
              "data": {"values": [{}]},
              "mark": {"type": "rule", "color": "#a8121c", "strokeWidth": 2.7, "strokeDash": [2.7, 8.1]},
              "encoding": {"y": {"datum": 30, "type": "quantitative", "scale": {"domain": [10.21, 41.08], "nice": false, "zero": false}, "axis": {"orient": "right", "values": [20, 30, 40], "grid": false, "title": "Höchsttemperatur (°C)"}}}
            },
            {
              "data": {"values": [{}]},
              "mark": {"type": "rule", "color": "#c8a064", "strokeWidth": 2.7, "strokeDash": [2.7, 8.1]},
              "encoding": {"y": {"datum": 35, "type": "quantitative", "scale": {"domain": [10.21, 41.08], "nice": false, "zero": false}, "axis": {"orient": "right", "values": [20, 30, 40], "grid": false, "title": "Höchsttemperatur (°C)"}}}
            },
            {
              "data": {"name": "temp"},
              "transform": [{"filter": "datum.Jahr == 2015"}],
              "mark": {"type": "line", "color": "#a8121c", "strokeWidth": 2.5},
              "encoding": {
                "x": {"field": "Tag", "type": "quantitative", "title": null, "scale": {"domain": [-5.625, 96.125], "nice": false, "zero": false}},
                "y": {"field": "Grad", "type": "quantitative", "scale": {"domain": [10.21, 41.08], "nice": false, "zero": false}, "axis": {"orient": "right", "values": [20, 30, 40], "grid": false, "title": "Höchsttemperatur (°C)"}}
              }
            }
          ]
        },
        {
          "data": {"name": "tote"},
          "transform": [{"filter": "datum.Jahr == 2015"}],
          "mark": {"type": "line", "color": "#000000", "strokeWidth": 2.5},
          "encoding": {
            "x": {"field": "Tag", "type": "quantitative", "title": null, "scale": {"domain": [-5.625, 96.125], "nice": false, "zero": false}},
            "y": {"field": "Tote", "type": "quantitative", "scale": {"domain": [1114, 2672], "nice": false, "zero": false}, "axis": {"orient": "left", "title": "Todesfälle in Österreich", "grid": true, "values": [1200, 1400, 1600, 1800, 2000, 2200, 2400, 2600], "labelExpr": "datum.value % 400 == 0 ? '' + datum.value : ''", "gridWidth": {"condition": {"test": "datum.value % 400 == 0", "value": 2.5}, "value": 1.2}}},
            "strokeDash": {"field": "Stand", "type": "nominal", "scale": {"domain": ["tatsächlich", "hochgerechnet auf 2026"], "range": [[1, 0], [11, 11]]}, "legend": {"title": "Bevölkerungsstand", "symbolType": "stroke", "symbolSize": 1444, "symbolStrokeWidth": 2.5, "symbolStrokeColor": "#000000"}}
          }
        }
      ],
      "resolve": {"scale": {"y": "independent"}}
    },
    {
      "title": "2019",
      "width": 1138,
      "height": 208,
      "layer": [
        {
          "data": {"name": "tage"},
          "transform": [{"filter": "datum.Jahr == 2019"}],
          "mark": {"type": "rect"},
          "encoding": {
            "x": {"field": "von", "type": "quantitative", "title": null, "scale": {"domain": [-5.625, 96.125], "nice": false, "zero": false}, "axis": {"values": [0, 7, 14, 22, 30, 37, 44, 52.5, 61, 68, 75, 83.5, 92], "labels": false, "grid": true, "gridWidth": {"condition": {"test": "datum.value == 0 || datum.value == 14 || datum.value == 30 || datum.value == 44 || datum.value == 61 || datum.value == 75 || datum.value == 92", "value": 2.5}, "value": 1.2}}},
            "x2": {"field": "bis"},
            "fill": {"field": "Art", "type": "nominal", "scale": {"domain": ["Hitzetag", "Wüstentag"], "range": ["rgba(165,15,21,0.115)", "rgba(189,155,93,0.32)"]}, "legend": {"title": "Höchsttemperatur", "symbolType": "square", "symbolSize": 1764, "symbolStrokeWidth": 0, "symbolOpacity": 1}}
          }
        },
        {
          "layer": [
            {
              "data": {"values": [{}]},
              "mark": {"type": "rule", "color": "#a8121c", "strokeWidth": 2.7, "strokeDash": [2.7, 8.1]},
              "encoding": {"y": {"datum": 30, "type": "quantitative", "scale": {"domain": [10.21, 41.08], "nice": false, "zero": false}, "axis": {"orient": "right", "values": [20, 30, 40], "grid": false, "title": null}}}
            },
            {
              "data": {"values": [{}]},
              "mark": {"type": "rule", "color": "#c8a064", "strokeWidth": 2.7, "strokeDash": [2.7, 8.1]},
              "encoding": {"y": {"datum": 35, "type": "quantitative", "scale": {"domain": [10.21, 41.08], "nice": false, "zero": false}, "axis": {"orient": "right", "values": [20, 30, 40], "grid": false, "title": null}}}
            },
            {
              "data": {"name": "temp"},
              "transform": [{"filter": "datum.Jahr == 2019"}],
              "mark": {"type": "line", "color": "#a8121c", "strokeWidth": 2.5},
              "encoding": {
                "x": {"field": "Tag", "type": "quantitative", "title": null, "scale": {"domain": [-5.625, 96.125], "nice": false, "zero": false}},
                "y": {"field": "Grad", "type": "quantitative", "scale": {"domain": [10.21, 41.08], "nice": false, "zero": false}, "axis": {"orient": "right", "values": [20, 30, 40], "grid": false, "title": null}}
              }
            }
          ]
        },
        {
          "data": {"name": "tote"},
          "transform": [{"filter": "datum.Jahr == 2019"}],
          "mark": {"type": "line", "color": "#000000", "strokeWidth": 2.5},
          "encoding": {
            "x": {"field": "Tag", "type": "quantitative", "title": null, "scale": {"domain": [-5.625, 96.125], "nice": false, "zero": false}},
            "y": {"field": "Tote", "type": "quantitative", "scale": {"domain": [1114, 2672], "nice": false, "zero": false}, "axis": {"orient": "left", "title": null, "grid": true, "values": [1200, 1400, 1600, 1800, 2000, 2200, 2400, 2600], "labelExpr": "datum.value % 400 == 0 ? '' + datum.value : ''", "gridWidth": {"condition": {"test": "datum.value % 400 == 0", "value": 2.5}, "value": 1.2}}},
            "strokeDash": {"field": "Stand", "type": "nominal", "scale": {"domain": ["tatsächlich", "hochgerechnet auf 2026"], "range": [[1, 0], [11, 11]]}, "legend": {"title": "Bevölkerungsstand", "symbolType": "stroke", "symbolSize": 1444, "symbolStrokeWidth": 2.5, "symbolStrokeColor": "#000000"}}
          }
        }
      ],
      "resolve": {"scale": {"y": "independent"}}
    },
    {
      "title": "2026",
      "width": 1138,
      "height": 208,
      "layer": [
        {
          "data": {"name": "tage"},
          "transform": [{"filter": "datum.Jahr == 2026"}],
          "mark": {"type": "rect"},
          "encoding": {
            "x": {"field": "von", "type": "quantitative", "title": "Datum", "scale": {"domain": [-5.625, 96.125], "nice": false, "zero": false}, "axis": {"values": [0, 7, 14, 22, 30, 37, 44, 52.5, 61, 68, 75, 83.5, 92], "grid": true, "labelFlush": false, "labelExpr": "datum.value == 0 ? '1. Juni' : datum.value == 14 ? '15. Juni' : datum.value == 30 ? '1. Juli' : datum.value == 44 ? '15. Juli' : datum.value == 61 ? '1. August' : datum.value == 75 ? '15. August' : datum.value == 92 ? '1. September' : ''", "gridWidth": {"condition": {"test": "datum.value == 0 || datum.value == 14 || datum.value == 30 || datum.value == 44 || datum.value == 61 || datum.value == 75 || datum.value == 92", "value": 2.5}, "value": 1.2}}},
            "x2": {"field": "bis"},
            "fill": {"field": "Art", "type": "nominal", "scale": {"domain": ["Hitzetag", "Wüstentag"], "range": ["rgba(165,15,21,0.115)", "rgba(189,155,93,0.32)"]}, "legend": {"title": "Höchsttemperatur", "symbolType": "square", "symbolSize": 1764, "symbolStrokeWidth": 0, "symbolOpacity": 1}}
          }
        },
        {
          "layer": [
            {
              "data": {"values": [{}]},
              "mark": {"type": "rule", "color": "#a8121c", "strokeWidth": 2.7, "strokeDash": [2.7, 8.1]},
              "encoding": {"y": {"datum": 30, "type": "quantitative", "scale": {"domain": [10.21, 41.08], "nice": false, "zero": false}, "axis": {"orient": "right", "values": [20, 30, 40], "grid": false, "title": null}}}
            },
            {
              "data": {"values": [{}]},
              "mark": {"type": "rule", "color": "#c8a064", "strokeWidth": 2.7, "strokeDash": [2.7, 8.1]},
              "encoding": {"y": {"datum": 35, "type": "quantitative", "scale": {"domain": [10.21, 41.08], "nice": false, "zero": false}, "axis": {"orient": "right", "values": [20, 30, 40], "grid": false, "title": null}}}
            },
            {
              "data": {"name": "temp"},
              "transform": [{"filter": "datum.Jahr == 2026"}],
              "mark": {"type": "line", "color": "#a8121c", "strokeWidth": 2.5},
              "encoding": {
                "x": {"field": "Tag", "type": "quantitative", "title": "Datum", "scale": {"domain": [-5.625, 96.125], "nice": false, "zero": false}},
                "y": {"field": "Grad", "type": "quantitative", "scale": {"domain": [10.21, 41.08], "nice": false, "zero": false}, "axis": {"orient": "right", "values": [20, 30, 40], "grid": false, "title": null}}
              }
            }
          ]
        },
        {
          "data": {"name": "tote"},
          "transform": [{"filter": "datum.Jahr == 2026"}],
          "mark": {"type": "line", "color": "#000000", "strokeWidth": 2.5},
          "encoding": {
            "x": {"field": "Tag", "type": "quantitative", "title": "Datum", "scale": {"domain": [-5.625, 96.125], "nice": false, "zero": false}},
            "y": {"field": "Tote", "type": "quantitative", "scale": {"domain": [1114, 2672], "nice": false, "zero": false}, "axis": {"orient": "left", "title": null, "grid": true, "values": [1200, 1400, 1600, 1800, 2000, 2200, 2400, 2600], "labelExpr": "datum.value % 400 == 0 ? '' + datum.value : ''", "gridWidth": {"condition": {"test": "datum.value % 400 == 0", "value": 2.5}, "value": 1.2}}},
            "strokeDash": {"field": "Stand", "type": "nominal", "scale": {"domain": ["tatsächlich", "hochgerechnet auf 2026"], "range": [[1, 0], [11, 11]]}, "legend": {"title": "Bevölkerungsstand", "symbolType": "stroke", "symbolSize": 1444, "symbolStrokeWidth": 2.5, "symbolStrokeColor": "#000000"}}
          }
        }
      ],
      "resolve": {"scale": {"y": "independent"}}
    }
  ],
  "config": {
    "font": "Liberation Sans",
    "view": {"stroke": null},
    "axis": {"domain": false, "ticks": false, "gridColor": "#ebebeb", "labelFontSize": 22, "labelColor": "#4d4d4d", "titleFontSize": 27.5, "titleFontWeight": "normal", "titleColor": "#000000"},
    "axisLeft": {"labelPadding": 15, "titlePadding": 10},
    "axisRight": {"ticks": true, "tickColor": "#a8121c", "tickSize": 7, "tickWidth": 2.5, "labelColor": "#a8121c", "labelPadding": 4, "titleColor": "#a8121c", "titlePadding": 12},
    "axisBottom": {"labelPadding": 12, "titlePadding": 6},
    "title": {"fontSize": 22, "fontWeight": "normal", "color": "#000000", "offset": 5, "frame": "group", "anchor": "middle"},
    "legend": {
      "orient": "bottom",
      "direction": "horizontal",
      "titleOrient": "left",
      "titleAnchor": "middle",
      "titleBaseline": "middle",
      "titleFontSize": 27.5,
      "titleFontWeight": "normal",
      "titleColor": "#000000",
      "titleLimit": 500,
      "labelFontSize": 22,
      "labelColor": "#000000",
      "labelLimit": 500,
      "labelOffset": 18,
      "columnPadding": 18,
      "titlePadding": 18,
      "offset": 14,
      "layout": {"bottom": {"anchor": "middle", "direction": "vertical", "center": true, "margin": 18}}
    }
  }
}
